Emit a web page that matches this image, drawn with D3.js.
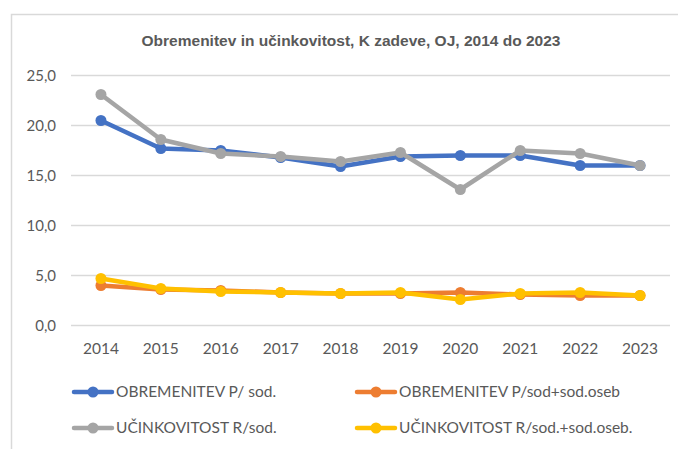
<!DOCTYPE html>
<html>
<head>
<meta charset="utf-8">
<script src="https://cdn.jsdelivr.net/npm/d3@7"></script>
<style>
  body { margin: 0; background: #fff; }
  text { fill: #595959; }
</style>
</head>
<body>
<div id="chart"></div>
<script>
var years = ["2014", "2015", "2016", "2017", "2018", "2019", "2020", "2021", "2022", "2023"];
var obremenitevSod = [20.5, 17.7, 17.5, 16.8, 15.9, 16.9, 17.0, 17.0, 16.0, 16.0];
var obremenitevSodOseb = [4.0, 3.6, 3.5, 3.3, 3.2, 3.2, 3.3, 3.1, 3.0, 3.0];
var ucinkovitostSod = [23.1, 18.6, 17.2, 16.9, 16.4, 17.3, 13.6, 17.5, 17.2, 16.0];
var ucinkovitostSodOseb = [4.7, 3.7, 3.4, 3.3, 3.2, 3.3, 2.6, 3.2, 3.3, 3.0];
var yTicks = [0, 5, 10, 15, 20, 25];

var series = [
  {name: "OBREMENITEV P/ sod.", values: obremenitevSod, color: "#4472C4"},
  {name: "OBREMENITEV P/sod+sod.oseb", values: obremenitevSodOseb, color: "#ED7D31"},
  {name: "UČINKOVITOST R/sod.", values: ucinkovitostSod, color: "#A5A5A5"},
  {name: "UČINKOVITOST R/sod.+sod.oseb.", values: ucinkovitostSodOseb, color: "#FFC000"}
];

var width = 678, height = 449;
var font = "Lato, Roboto, sans-serif";

var svg = d3.select("#chart").append("svg")
  .attr("width", width)
  .attr("height", height);

// chart border
svg.append("rect")
  .attr("x", 11.5).attr("y", 14.5)
  .attr("width", 700).attr("height", 500)
  .attr("fill", "none")
  .attr("stroke", "#d9d9d9")
  .attr("stroke-width", 1.5);

var x = d3.scaleBand()
  .domain(years)
  .range([71, 670]);

var y = d3.scaleLinear()
  .domain([0, 25])
  .range([325.5, 75.5]);

// title
svg.append("text")
  .attr("x", 351).attr("y", 46)
  .attr("text-anchor", "middle")
  .style("font-family", "'Liberation Sans', Arial, sans-serif")
  .style("font-weight", "bold")
  .style("font-size", "14.5px")
  .attr("textLength", 419)
  .attr("lengthAdjust", "spacingAndGlyphs")
  .text("Obremenitev  in učinkovitost, K zadeve, OJ, 2014 do 2023");

// gridlines
svg.append("g")
  .selectAll("line")
  .data(yTicks)
  .enter().append("line")
    .attr("x1", 71).attr("x2", 670)
    .attr("y1", function(d) { return y(d); })
    .attr("y2", function(d) { return y(d); })
    .attr("stroke", "#d9d9d9")
    .attr("stroke-width", 1.5);

// y axis labels
var yAxis = svg.append("g")
  .attr("transform", "translate(71,0)")
  .call(d3.axisLeft(y).tickValues(yTicks).tickSize(0).tickPadding(15)
    .tickFormat(function(d) { return d3.format(".1f")(d).replace(".", ","); }));
yAxis.select(".domain").remove();
yAxis.selectAll("text")
  .style("font-family", font)
  .style("font-size", "15px")
  .attr("fill", "#595959");

// x axis labels
var xAxis = svg.append("g")
  .attr("transform", "translate(0," + y(0) + ")")
  .call(d3.axisBottom(x).tickSize(0).tickPadding(17));
xAxis.select(".domain").remove();
xAxis.selectAll("text")
  .style("font-family", font)
  .style("font-size", "15.5px")
  .attr("fill", "#595959");

var line = d3.line()
  .x(function(d, i) { return x(years[i]) + x.bandwidth() / 2; })
  .y(function(d) { return y(d); });

series.forEach(function(s) {
  var g = svg.append("g");
  g.append("path")
    .datum(s.values)
    .attr("fill", "none")
    .attr("stroke", s.color)
    .attr("stroke-width", 4.5)
    .attr("stroke-linejoin", "round")
    .attr("stroke-linecap", "round")
    .attr("d", line);
  g.selectAll("circle")
    .data(s.values)
    .enter().append("circle")
      .attr("cx", function(d, i) { return x(years[i]) + x.bandwidth() / 2; })
      .attr("cy", function(d) { return y(d); })
      .attr("r", 5.5)
      .attr("fill", s.color);
});

// legend
var legendPos = [[74, 392], [357, 392], [74, 428], [357, 428]];
series.forEach(function(s, i) {
  var lg = svg.append("g")
    .attr("transform", "translate(" + legendPos[i][0] + "," + legendPos[i][1] + ")");
  lg.append("line")
    .attr("x1", 0).attr("x2", 38)
    .attr("stroke", s.color)
    .attr("stroke-width", 4.5)
    .attr("stroke-linecap", "round");
  lg.append("circle")
    .attr("cx", 19).attr("r", 5.5)
    .attr("fill", s.color);
  lg.append("text")
    .attr("x", 42).attr("dy", "0.35em")
    .style("font-family", font)
    .style("font-size", "15.5px")
    .text(s.name);
});
</script>
</body>
</html>
